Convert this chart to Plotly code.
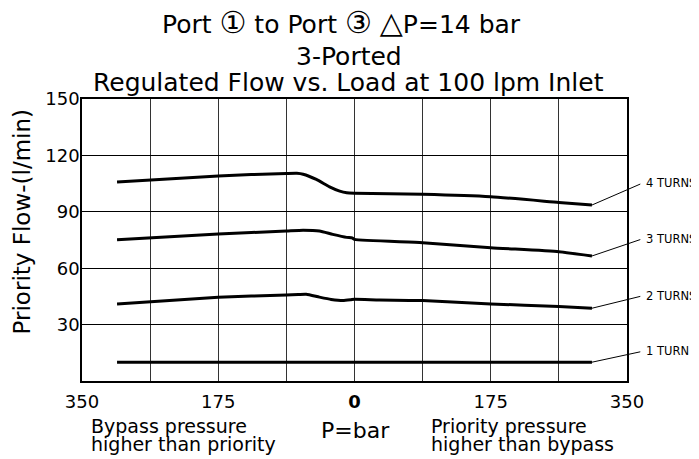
import plotly.graph_objects as go

# ---- data ----
x_4t = [-305, -175, -87.5, -74, -66, -49, -32, -19, -10, 0, 87.5, 175, 262.5, 305]
y_4t = [105.8, 109.1, 110.4, 110.5, 110.0, 107.2, 103.3, 101.0, 100.1, 99.9, 99.3, 98.0, 95.0, 93.6]

x_3t = [-305, -175, -87.5, -66, -45, -28, -10, -3, 0, 87.5, 175, 262.5, 305]
y_3t = [75.1, 78.2, 79.8, 80.2, 79.8, 78.0, 76.4, 76.1, 75.3, 73.6, 70.9, 68.8, 66.5]

x_2t = [-305, -175, -87.5, -72, -62, -45, -30, -15, -5, 0, 32, 87.5, 175, 262.5, 305]
y_2t = [41.0, 44.5, 45.8, 46.0, 46.1, 44.6, 43.4, 42.8, 43.2, 43.5, 43.1, 42.8, 41.0, 39.6, 38.7]

x_1t = [-305, 305]
y_1t = [10.0, 10.0]

series_names = ["4 TURNS", "3 TURNS", "2 TURNS", "1 TURN"]
label_y = [105.1, 75.5, 45.2, 15.7]
label_x = 369

grid_x = [-350, -262.5, -175, -87.5, 0, 87.5, 175, 262.5, 350]
grid_x_text = ["350", "", "175", "", "<b>0</b>", "", "175", "", "350"]
y_ticks = [0, 30, 60, 90, 120, 150]
y_tick_text = ["", "30", "60", "90", "120", "150"]
Y_MAX = 150

FONT = "DejaVu Sans"

fig = go.Figure()
xs = [x_4t, x_3t, x_2t, x_1t]
ys = [y_4t, y_3t, y_2t, y_1t]
for name, xv, yv in zip(series_names, xs, ys):
    fig.add_trace(go.Scatter(x=xv, y=yv, mode="lines", name=name,
                             line=dict(color="black", width=3, shape="spline", smoothing=0.5),
                             showlegend=False, hoverinfo="skip"))

annotations = []
for name, xv, yv, ly in zip(series_names, xs, ys, label_y):
    # leader line
    annotations.append(dict(x=xv[-1], y=yv[-1], xref="x", yref="y",
                            ax=label_x, ay=ly, axref="x", ayref="y",
                            text="", showarrow=True, arrowhead=0, arrowwidth=1,
                            arrowcolor="black", standoff=0, startstandoff=0))
    annotations.append(dict(x=1.031, y=ly / Y_MAX, xref="paper", yref="paper", text=name,
                            showarrow=False, xanchor="left", yanchor="middle",
                            font=dict(family=FONT, size=11.5, color="black")))

big = '<span style="font-size:30px">{}</span>'
annotations += [
    dict(x=0.477, y=1.272, xref="paper", yref="paper", showarrow=False,
         text="Port " + big.format("\u2460") + " to Port " + big.format("\u2462")
              + " " + big.format("\u25b3") + "P=14 bar",
         font=dict(family=FONT, size=25, color="black"), xanchor="center", yanchor="middle"),
    dict(x=0.4905, y=1.151, xref="paper", yref="paper", showarrow=False,
         text="3-Ported", font=dict(family=FONT, size=25, color="black"),
         xanchor="center", yanchor="middle"),
    dict(x=0.4895, y=1.059, xref="paper", yref="paper", showarrow=False,
         text="Regulated Flow vs. Load at 100 lpm Inlet",
         font=dict(family=FONT, size=25, color="black"),
         xanchor="center", yanchor="middle"),
    dict(x=-0.111, y=0.564, xref="paper", yref="paper", showarrow=False,
         text="Priority Flow-(l/min)", textangle=-90,
         font=dict(family=FONT, size=23, color="black"),
         xanchor="center", yanchor="middle"),
    dict(x=0.502, y=-0.176, xref="paper", yref="paper", showarrow=False,
         text="P=bar", font=dict(family=FONT, size=22, color="black"),
         xanchor="center", yanchor="middle"),
]
bottom_font = dict(family=FONT, size=19, color="black")
for txt, xp, yp in [("Bypass pressure", 0.0145, -0.158), ("higher than priority", 0.0145, -0.224),
                    ("Priority pressure", 0.639, -0.158), ("higher than bypass", 0.639, -0.224)]:
    annotations.append(dict(x=xp, y=yp, xref="paper", yref="paper", showarrow=False,
                            text=txt, font=bottom_font, xanchor="left", yanchor="middle",
                            borderpad=0))

fig.update_layout(
    width=691, height=451,
    margin=dict(l=74, r=72, t=91, b=78),
    paper_bgcolor="white", plot_bgcolor="white",
    font=dict(family=FONT, color="black"),
    annotations=annotations,
    xaxis=dict(range=[-350, 350], tickmode="array", tickvals=grid_x, ticktext=grid_x_text,
               showgrid=True, gridcolor="#333333", gridwidth=1.2,
               showline=True, linecolor="black", linewidth=1.5, mirror=True,
               ticks="", zeroline=False, ticklabelstandoff=4,
               tickfont=dict(family=FONT, size=18, color="black")),
    yaxis=dict(range=[0, Y_MAX], tickmode="array", tickvals=y_ticks, ticktext=y_tick_text,
               showgrid=True, gridcolor="black", gridwidth=1.2,
               showline=True, linecolor="black", linewidth=1.5, mirror=True,
               ticks="", zeroline=False, ticklabelstandoff=-3,
               tickfont=dict(family=FONT, size=18, color="black")),
)

fig.write_html("out.html")
